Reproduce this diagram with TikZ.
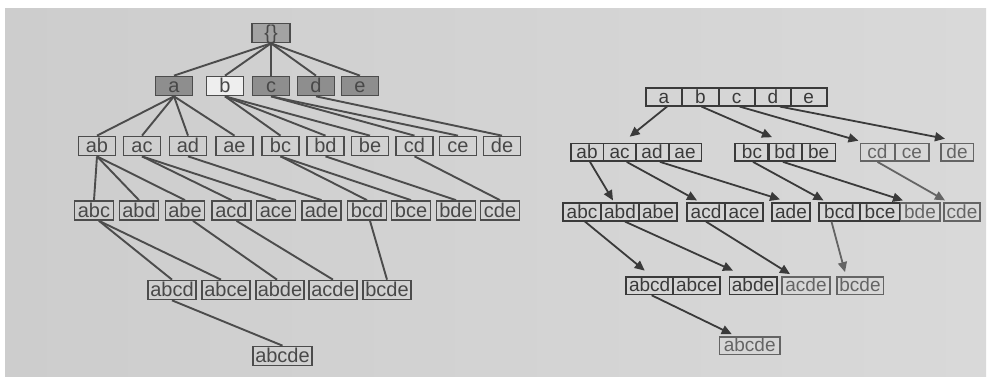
\documentclass[tikz,border=0pt]{standalone}
\usepackage{fontspec}
\setmainfont{Liberation Sans}
\usetikzlibrary{arrows.meta}
\definecolor{bgA}{HTML}{CDCDCD}
\definecolor{bgB}{HTML}{D9D9D9}
\definecolor{lc}{HTML}{4C4C4C}
\definecolor{tc}{HTML}{484848}
\definecolor{darkfill}{HTML}{8E8E8E}
\definecolor{rootfill}{HTML}{A3A3A3}
\definecolor{lightfill}{HTML}{EEEEEE}
\definecolor{rc}{HTML}{3A3A3A}
\definecolor{rcl}{HTML}{646464}
\begin{document}
\begin{tikzpicture}[x=1pt,y=-1pt,
  lbox/.style={draw=lc, line width=1.7pt, text=tc, font=\fontsize{20}{20}\selectfont,
    inner xsep=2pt, inner ysep=0pt, minimum height=19pt, text height=14pt, text depth=0.5pt},
  rbox/.style={draw=rc, line width=1.7pt, text=rc, font=\fontsize{19}{19}\selectfont,
    inner sep=0pt, minimum height=17.5pt, text height=13pt, text depth=0.5pt},
  rboxl/.style={rbox, draw=rcl, text=rcl},
  ledge/.style={draw=lc, line width=1.9pt},
  redge/.style={draw=rc, line width=1.8pt, -{Triangle[length=10pt,width=9pt]}},
  redgel/.style={redge, draw=rcl}]
\useasboundingbox (0,0) rectangle (991,380);
\fill[white] (0,0) rectangle (991,380);
\shade[left color=bgA, right color=bgB] (5,8) rectangle (986,376);

% ---------------- left tree ----------------
\node[lbox, fill=rootfill, minimum width=38pt] (L0) at (271,33) {\{\}};
\node[lbox, fill=darkfill, minimum width=37pt] (La) at (174,86) {a};
\node[lbox, fill=lightfill, minimum width=37pt] (Lb) at (225,86) {b};
\node[lbox, fill=darkfill, minimum width=37pt] (Lc) at (271,86) {c};
\node[lbox, fill=darkfill, minimum width=37pt] (Ld) at (316,86) {d};
\node[lbox, fill=darkfill, minimum width=37pt] (Le) at (360,86) {e};

\foreach \n/\x in {ab/97,ac/142,ad/188,ae/234.5,bc/280.5,bd/325.5,be/370,cd/414.5,ce/458,de/502}
  \node[lbox, minimum width=37pt] (L\n) at (\x,146) {\n};
\foreach \n/\x in {abc/94,abd/139,abe/185,acd/231.5,ace/276,ade/321.5,bcd/367,bce/411,bde/456,cde/500}
  \node[lbox, minimum width=39pt] (L\n) at (\x,210.5) {\n};
\foreach \n/\x in {abcd/172,abce/226,abde/280,acde/333,bcde/387}
  \node[lbox, minimum width=48pt] (L\n) at (\x,290) {\n};
\node[lbox, minimum width=58pt] (Labcde) at (282.5,356) {abcde};

\foreach \c in {a,b,c,d,e} \draw[ledge] (L0.south) -- (L\c.north);
\foreach \p/\c in {a/ab,a/ac,a/ad,a/ae,b/bc,b/bd,b/be,c/cd,c/ce,d/de,
                   ab/abc,ab/abd,ab/abe,ac/acd,ac/ace,ad/ade,bc/bcd,bc/bce,bd/bde,cd/cde}
  \draw[ledge] (L\p.south) -- (L\c.north);
\draw[ledge] ([xshift=5pt]Labc.south) -- (Labcd.north);
\draw[ledge] ([xshift=5pt]Labc.south) -- ([xshift=-5pt]Labce.north);
\draw[ledge] ([xshift=8pt]Labe.south) -- ([xshift=-3pt]Labde.north);
\draw[ledge] ([xshift=5pt]Lacd.south) -- (Lacde.north);
\draw[ledge] ([xshift=3pt]Lbcd.south) -- (Lbcde.north);
\draw[ledge] (Labcd.south) -- (Labcde.north);

% ---------------- right tree ----------------
\foreach \n/\x in {a/664,b/700.5,c/736.7,d/773,e/808.7}
  \node[rbox, minimum width=36pt] (R\n) at (\x,97) {\n};
\foreach \n/\x in {ab/587,ac/619.7,ad/652,ae/685}
  \node[rbox, minimum width=32.7pt] (R\n) at (\x,152.3) {\n};
\foreach \n/\x in {bc/752,bd/785,be/818.7}
  \node[rbox, minimum width=33.5pt] (R\n) at (\x,152.3) {\n};
\foreach \n/\x in {cd/877.5,ce/912}
  \node[rboxl, minimum width=34.3pt] (R\n) at (\x,152.3) {\n};
\node[rboxl, minimum width=32.7pt] (Rde) at (957,152.3) {de};

\foreach \n/\x in {abc/582,abd/620,abe/658}
  \node[rbox, minimum width=38pt] (R\n) at (\x,212) {\n};
\foreach \n/\x in {acd/706,ace/744}
  \node[rbox, minimum width=38.3pt] (R\n) at (\x,212) {\n};
\node[rbox, minimum width=38.3pt] (Rade) at (791,212) {ade};
\foreach \n/\x in {bcd/839.5,bce/880}
  \node[rbox, minimum width=40.5pt] (R\n) at (\x,212) {\n};
\node[rboxl, minimum width=39.3pt] (Rbde) at (920,212) {bde};
\node[rboxl, minimum width=35.7pt] (Rcde) at (962,212) {cde};

\foreach \n/\x in {abcd/649.7,abce/696.7}
  \node[rbox, minimum width=47pt] (R\n) at (\x,285.7) {\n};
\node[rbox, minimum width=47.3pt] (Rabde) at (753,285.7) {abde};
\node[rboxl, minimum width=48.3pt] (Racde) at (806,285.7) {acde};
\node[rboxl, minimum width=46.7pt] (Rbcde) at (860,285.7) {bcde};
\node[rboxl, minimum width=60.7pt] (Rabcde) at (749.7,345.7) {abcde};

\draw[redge] ([xshift=3pt]Ra.south) -- ([xshift=10pt,yshift=6pt]Rac.north);
\draw[redge] ([xshift=1pt]Rb.south) -- ([xshift=20pt,yshift=5.5pt]Rbc.north);
\draw[redge] ([xshift=3pt]Rc.south) -- ([xshift=-19pt,yshift=2pt]Rcd.north);
\draw[redge] ([xshift=7pt]Rd.south) -- ([xshift=-12pt,yshift=4pt]Rde.north);

\draw[redge] ([xshift=3pt]Rab.south) -- ([xshift=-7pt,yshift=2pt]Rabd.north);
\draw[redge] ([xshift=7pt]Rac.south) -- ([xshift=-9pt,yshift=2pt]Racd.north);
\draw[redge] ([xshift=8pt]Rad.south) -- ([xshift=-11pt,yshift=3pt]Rade.north);
\draw[redge] ([xshift=1pt]Rbc.south) -- ([xshift=-16pt,yshift=2pt]Rbcd.north);
\draw[redge] ([xshift=-2pt]Rbd.south) -- ([xshift=-17pt,yshift=2pt]Rbde.north);
\draw[redgel] (Rcd.south) -- ([xshift=-17pt,yshift=2pt]Rcde.north);

\draw[redge] ([xshift=3pt]Rabc.south) -- ([xshift=-5pt,yshift=5.5pt]Rabcd.north);
\draw[redge] ([xshift=5pt]Rabd.south) -- ([xshift=-20pt,yshift=5.5pt]Rabde.north);
\draw[redge] (Racd.south) -- ([xshift=-16pt,yshift=2pt]Racde.north);
\draw[redgel] ([xshift=-8pt]Rbcd.south) -- ([xshift=-15pt,yshift=4pt]Rbcde.north);
\draw[redge] ([xshift=2pt]Rabcd.south) -- ([xshift=-18pt,yshift=2pt]Rabcde.north);
\end{tikzpicture}
\end{document}
